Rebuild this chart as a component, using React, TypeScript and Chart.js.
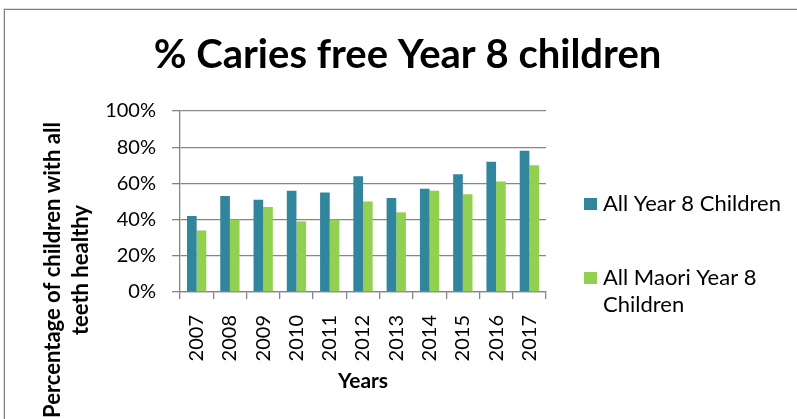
import React, { useEffect, useRef } from 'react';
import { Chart, registerables } from 'chart.js';

Chart.register(...registerables);

const YEARS = ['2007', '2008', '2009', '2010', '2011', '2012', '2013', '2014', '2015', '2016', '2017'];
const ALL_Y8 = [42, 53, 51, 56, 55, 64, 52, 57, 65, 72, 78];
const MAORI_Y8 = [34, 40, 47, 39, 40, 50, 44, 56, 54, 61, 70];
const SERIES_NAMES = ['All Year 8 Children', 'All Maori Year 8 Children'];
const SERIES_COLORS = ['#31859C', '#92D050'];
const TITLE = '% Caries free Year 8 children';
const X_TITLE = 'Years';
const Y_TITLE = ['Percentage of children with all', 'teeth healthy'];

const FONT = 'Lato, "Open Sans", sans-serif';
const GRID = '#868686';

function wrap(ctx: CanvasRenderingContext2D, text: string, maxW: number): string[] {
  const words = text.split(' ');
  const lines: string[] = [];
  let cur = '';
  for (const w of words) {
    const t = cur ? cur + ' ' + w : w;
    if (ctx.measureText(t).width > maxW && cur) {
      lines.push(cur);
      cur = w;
    } else cur = t;
  }
  if (cur) lines.push(cur);
  return lines;
}

const overlay = {
  id: 'overlay',
  afterDraw(chart: any) {
    const ctx: CanvasRenderingContext2D = chart.ctx;
    const ca = chart.chartArea;
    ctx.save();
    // y axis title
    ctx.font = `bold 22px ${FONT}`;
    ctx.fillStyle = '#000';
    ctx.textAlign = 'center';
    ctx.textBaseline = 'middle';
    ctx.translate(ca.left - 127, ca.top + 159);
    ctx.rotate(-Math.PI / 2);
    Y_TITLE.forEach((l, i) => ctx.fillText(l, 0, i * 28));
    ctx.restore();

    // legend
    ctx.save();
    ctx.font = `22px ${FONT}`;
    ctx.textAlign = 'left';
    ctx.textBaseline = 'middle';
    const starts = [93, 167];
    chart.data.datasets.forEach((ds: any, i: number) => {
      const y0 = ca.top + starts[i];
      ctx.fillStyle = ds.backgroundColor;
      ctx.fillRect(ca.right + 38, y0 - 6, 13, 12);
      ctx.fillStyle = '#000';
      const lines = wrap(ctx, ds.label, 190);
      lines.forEach((l, j) => ctx.fillText(l, ca.right + 57, y0 + j * 27));
    });
    ctx.restore();
  },
};

export default function App() {
  const ref = useRef<HTMLCanvasElement>(null);
  useEffect(() => {
    if (!ref.current) return;
    const chart = new Chart(ref.current, {
      type: 'bar',
      data: {
        labels: YEARS,
        datasets: [
          { label: SERIES_NAMES[0], data: ALL_Y8, backgroundColor: SERIES_COLORS[0], categoryPercentage: 0.58, barPercentage: 1 },
          { label: SERIES_NAMES[1], data: MAORI_Y8, backgroundColor: SERIES_COLORS[1], categoryPercentage: 0.58, barPercentage: 1 },
        ],
      },
      options: {
        animation: false,
        responsive: false,
        layout: { padding: { left: 18, right: 0, top: 0, bottom: 0 } },
        plugins: {
          legend: { display: false },
          tooltip: { enabled: false },
          title: {
            display: true,
            text: TITLE,
            color: '#000',
            font: { family: FONT, size: 40, weight: 'bold', lineHeight: 1.2 },
            padding: { top: 31, bottom: 32 },
          },
        },
        scales: {
          x: {
            grid: { display: true, drawOnChartArea: false, drawTicks: true, tickLength: 7, color: GRID, lineWidth: 1.3, offset: true },
            border: { display: true, color: GRID, width: 1.3 },
            ticks: { color: '#000', font: { family: FONT, size: 20 }, minRotation: 90, maxRotation: 90, padding: 16, autoSkip: false },
            title: { display: true, text: X_TITLE, color: '#000', font: { family: FONT, size: 21, weight: 'bold', lineHeight: 1.2 }, padding: { top: 0, bottom: 25 } },
            afterFit: (s: any) => { s.height = 127; },
          },
          y: {
            min: 0,
            max: 100,
            ticks: { stepSize: 20, color: '#000', font: { family: FONT, size: 20 }, padding: 16, callback: (v: any) => v + '%' },
            grid: { color: GRID, lineWidth: 1.3, tickLength: 8 },
            border: { display: true, color: GRID, width: 1.3 },
            afterFit: (s: any) => { s.width = 162; },
          },
          y2: {
            position: 'right',
            display: true,
            grid: { display: false },
            ticks: { display: false },
            border: { display: false },
            afterFit: (s: any) => { s.width = 251; },
          },
        },
      },
      plugins: [overlay],
    });
    return () => chart.destroy();
  }, []);
  return (
    <div style={{ position: 'fixed', left: 0, top: 0, width: 797, height: 419, overflow: 'hidden', background: '#fff' }}>
      <div style={{ position: 'absolute', left: 4, top: 9, width: 900, height: 600, border: '1px solid #7f7f7f', boxShadow: '0 0 0 0.5px #bbb' }} />
      <canvas ref={ref} width={797} height={419} style={{ position: 'absolute', left: 0, top: 0, display: 'block' }} />
    </div>
  );
}
